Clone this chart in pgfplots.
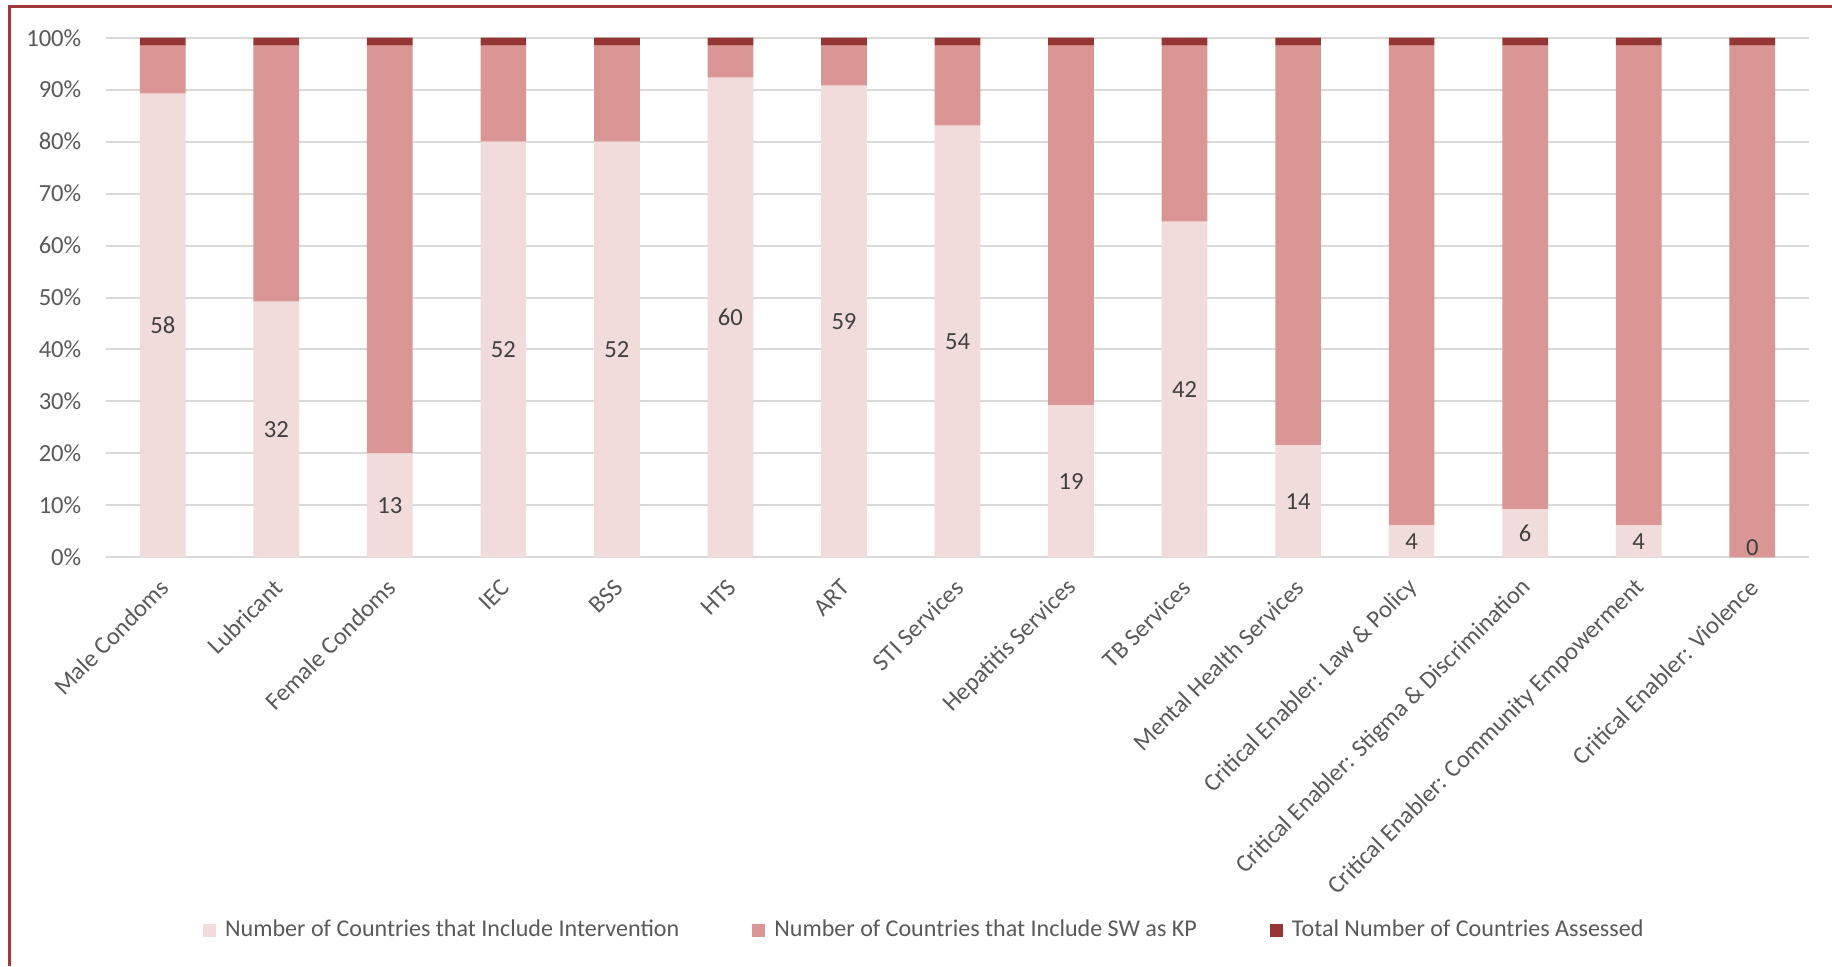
\documentclass[border=0pt]{standalone}
\usepackage{pgfplots}
\usepackage{pgfplotstable}
\pgfplotsset{compat=1.18}
\usepackage{fontspec}
\setmainfont{Carlito}
\definecolor{c1}{HTML}{F2DCDB}
\definecolor{c2}{HTML}{DA9694}
\definecolor{c3}{HTML}{963634}
\definecolor{txt}{HTML}{595959}
\definecolor{lbl}{HTML}{404040}
\definecolor{gridc}{HTML}{D9D9D9}
\definecolor{framec}{HTML}{A33A3A}
\pgfplotstableread{
x a b c
0 58 6 1
1 32 32 1
2 13 51 1
3 52 12 1
4 52 12 1
5 60 4 1
6 59 5 1
7 54 10 1
8 19 45 1
9 42 22 1
10 14 50 1
11 4 60 1
12 6 58 1
13 4 60 1
14 0 64 1
}\data
\newcommand{\chartfont}{\fontsize{7}{8.4}\selectfont}
\newcommand{\legfont}{\fontsize{6.85}{8.2}\selectfont}
\begin{document}
\begin{tikzpicture}
\path[use as bounding box] (0cm,0cm) rectangle (18.32cm,9.66cm);
\draw[framec, line width=0.025cm] (0.093cm,0cm) -- (0.093cm,9.593cm) -- (18.32cm,9.593cm);
\begin{scope}[shift={(1.06cm,4.087cm)}]
\begin{axis}[name=main, at={(0cm,0cm)}, anchor=south west, scale only axis,
  width=17.03cm, height=5.196cm,
  xmin=-0.5, xmax=14.5, ymin=0, ymax=65,
  ybar stacked, bar width=0.457cm,
  axis line style={draw=none},
  major tick length=0pt,
  ymajorgrids, grid style={gridc, line width=0.02cm},
  xtick={0,...,14},
  xticklabels={Male Condoms, Lubricant, Female Condoms, IEC, BSS, HTS, ART, STI Services, Hepatitis Services, TB Services, Mental Health Services, Critical Enabler: Law \& Policy, Critical Enabler: Stigma \& Discrimination, Critical Enabler: Community Empowerment, Critical Enabler: Violence},
  ytick={0,6.5,13,19.5,26,32.5,39,45.5,52,58.5,65},
  yticklabels={0\%,10\%,20\%,30\%,40\%,50\%,60\%,70\%,80\%,90\%,100\%},
  tick label style={font=\chartfont, text=txt},
  yticklabel style={inner sep=0pt, xshift=-0.24cm},
  xticklabel style={rotate=45, anchor=east, inner sep=0pt, xshift=-0.169cm, yshift=-0.20cm},
  legend style={at={(0.482,-0.719)}, anchor=center, legend columns=3, draw=none,
    font=\legfont, text=txt, fill=none,
    /tikz/every odd column/.append style={column sep=0.02cm},
    /tikz/every even column/.append style={column sep=0.66cm}},
  legend image code/.code={\fill[#1, draw=none] (0cm,-0.065cm) rectangle (0.13cm,0.065cm);},
]
\addplot[fill=c1, draw=none] table[x=x, y=a] {\data};
\addlegendentry{Number of Countries that Include Intervention}
\addplot[fill=c2, draw=none] table[x=x, y=b] {\data};
\addlegendentry{Number of Countries that Include SW as KP}
\addplot[fill=c3, draw=none] table[x=x, y=c] {\data};
\addlegendentry{Total Number of Countries Assessed}
\end{axis}
\begin{axis}[at={(main.south west)}, anchor=south west, scale only axis,
  width=17.03cm, height=5.196cm,
  xmin=-0.5, xmax=14.5, ymin=0, ymax=65, hide axis]
\addplot[draw=none, mark=none, nodes near coords, point meta=explicit symbolic,
  nodes near coords style={anchor=center, font=\chartfont, text=lbl}]
  table[x=x, y expr={max(\thisrow{a}/2,1.25)}, meta=a] {\data};
\end{axis}
\end{scope}
\end{tikzpicture}
\end{document}
